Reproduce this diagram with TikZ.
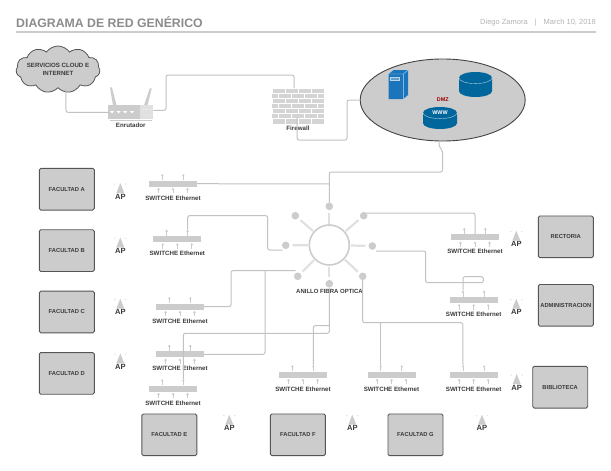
\documentclass[tikz,border=0pt]{standalone}
\usepackage{fontspec}
\setmainfont{Liberation Sans}
\usetikzlibrary{arrows.meta,positioning,calc,shapes.symbols,shapes.geometric}
\definecolor{frame}{HTML}{555555}
\definecolor{panel}{HTML}{CCCCCC}
\definecolor{wire}{HTML}{C2C2C2}
\definecolor{spoke}{HTML}{E0E0E0}
\definecolor{ink}{HTML}{3A3A3A}
\definecolor{diskblue}{HTML}{00669B}
\definecolor{srvblue}{HTML}{1B75BB}
\tikzset{
box/.style={draw=frame,fill=panel,line width=.9pt,rounded corners=1.5pt,minimum width=55pt,minimum height=41.7pt,inner sep=0pt,outer sep=0pt,align=center,text=ink,font=\bfseries\fontsize{5.8}{7}\selectfont},
lab/.style={inner sep=0pt,outer sep=0pt,text=ink,font=\bfseries\fontsize{6.2}{7}\selectfont},
aplab/.style={inner sep=0pt,outer sep=0pt,text=ink,font=\bfseries\fontsize{7.6}{8}\selectfont},
swbar/.style={fill=panel,minimum width=48pt,minimum height=6pt,inner sep=0pt,outer sep=0pt},
port/.style={draw=panel,line width=.8pt,-{Latex[length=2.2pt,width=3pt]}},
wired/.style={draw=wire,line width=1pt,rounded corners=2pt},
dot/.style={circle,fill=panel,minimum size=7.6pt,inner sep=0pt,outer sep=0pt}}
\newcommand{\switchnode}[3]{
\node[swbar] (#1) at (#2,#3) {};
\node[lab,below=9pt of #1] (#1lab) {SWITCHE Ethernet};
\coordinate (#1up1) at ($(#1)+(-10.7,-9.7)$);
\coordinate (#1up2) at ($(#1)+(10.3,-9.7)$);
\draw[port] ($(#1)+(-10.7,-3.5)$)--(#1up1);
\draw[port] ($(#1)+(10.3,-3.5)$)--(#1up2);
\foreach \dx in {-14.5,0,14.5} \draw[port] ($(#1)+(\dx,9.7)$)--($(#1)+(\dx,4)$);}
\newcommand{\apnode}[3]{
\node[aplab] (#1) at (#2,#3) {AP};
\fill[panel] ($(#1.north)+(-4,-1)$)--++(8,0)--++(-4,-10)--cycle;
\fill[spoke] ($(#1.north)+(-5.5,-10)$) circle (.8);
\fill[spoke] ($(#1.north)+(5.5,-10)$) circle (.8);}
\begin{document}
\begin{tikzpicture}[x=1pt,y=-1pt]
\useasboundingbox (0,0) rectangle (611,471);
\node[anchor=west,inner sep=0pt,text=gray!90,font=\bfseries\fontsize{12.3}{14}\selectfont] (title) at (16,22) {DIAGRAMA DE RED GENÉRICO};
\node[anchor=east,inner sep=0pt,text=gray!60,font=\fontsize{7.5}{9}\selectfont] (author) at (596,23) {Diego Zamora\hspace{7pt}|\hspace{7pt}March 10, 2018};
\coordinate (rulea) at (16,32);
\coordinate (ruleb) at (596,32);
\draw[panel,line width=1.4pt] (rulea)--(ruleb);
\node[cloud,cloud puffs=11,cloud puff arc=110,aspect=1.8,draw=frame,fill=panel,line width=.8pt,minimum width=84pt,minimum height=47pt,inner sep=0pt,outer sep=0pt] (cloud) at (58,69.5) {};
\node[lab,align=center,font=\bfseries\fontsize{6.1}{8}\selectfont] (cloudlab) at (58,69) {SERVICIOS CLOUD E\\INTERNET};
\node[fill=panel,minimum width=45pt,minimum height=14pt,inner sep=0pt,outer sep=0pt] (router) at (130.8,112.3) {};
\fill[panel] (110,87.3)--(112,87.3)--(116.5,105.3)--(113,105.3)--cycle;
\fill[panel] (149.8,88.3)--(151.8,88.3)--(147.5,105.3)--(144,105.3)--cycle;
\fill[spoke] (139.5,105.3) rectangle (153.3,119.3);
\foreach \i in {112,118.6,125.2,131.8} \fill[white] (\i-2,111.2)--(\i+2,111.2)--(\i,113.4)--cycle;
\foreach \j in {143,146.5,150} \fill[white] (\j,109.5) circle (.5) (\j,115) circle (.5);
\draw[panel,line width=.9pt] (110,120.9)--(152,120.9);
\node[lab,below=4pt of router] (routerlab) {Enrutador};
\node[fill=panel!85,minimum width=52pt,minimum height=36pt,inner sep=0pt,outer sep=0pt] (fw) at (298,106) {};
\foreach \r in {0,...,6} {
\draw[white,line width=.9pt] (272,88+5.14*\r)--(324,88+5.14*\r);
\pgfmathsetmacro{\off}{mod(\r,2)*6.5}
\foreach \k in {0,...,3} \draw[white,line width=.9pt] (272+\off+13*\k,88+5.14*\r)--++(0,5.14);}
\node[lab,below=1.8pt of fw] (fwlab) {Firewall};
\coordinate (fwout) at (297,117);
\node[ellipse,draw=frame!80!black,fill=panel,line width=.9pt,minimum width=165pt,minimum height=82pt,inner sep=0pt,outer sep=0pt] (dmz) at (442.7,100) {};
\fill[srvblue] (388.7,74)--(393.7,70)--(408,70)--(408,95)--(403.3,99)--(388.7,99)--cycle;
\draw[white!70!srvblue,line width=.4pt] (388.7,74)--(403.3,74)--(408,70) (403.3,74)--(403.3,99);
\draw[white!70!srvblue,fill=srvblue!70,line width=.4pt] (390,76.7) rectangle (399.3,80);
\foreach \cx/\cy/\rx/\hh in {475.5/77.8/16.5/13.4,440/112.8/17/10.4} {
\fill[diskblue] (\cx-\rx,\cy)--++(0,\hh) arc[start angle=180,end angle=0,x radius=\rx,y radius=5.8]--++(0,-\hh) arc[start angle=0,end angle=-180,x radius=\rx,y radius=5.8]--cycle;
\draw[white!70!diskblue,line width=.4pt] (\cx-\rx,\cy) arc[start angle=180,end angle=0,x radius=\rx,y radius=5.8];}
\node[inner sep=0pt,text=white,font=\bfseries\fontsize{5.4}{6}\selectfont] (www) at (440,113) {WWW};
\node[inner sep=0pt,text=red!60!black,font=\bfseries\fontsize{5.4}{6}\selectfont] (dmzlab) at (442.7,99.3) {DMZ};
\node[box] (fa) at (66.8,189.2) {FACULTAD A};
\node[box,below=19.7pt of fa] (fb) {FACULTAD B};
\node[box,below=19.7pt of fb] (fc) {FACULTAD C};
\node[box,below=19.7pt of fc] (fd) {FACULTAD D};
\node[box] (fe) at (169.3,434.8) {FACULTAD E};
\node[box,right=73.6pt of fe] (ff) {FACULTAD F};
\node[box,right=62.6pt of ff] (fg) {FACULTAD G};
\node[box] (rect) at (565.8,236.8) {RECTORIA};
\node[box,below=26.8pt of rect] (adm) {ADMINISTRACION};
\node[box] (bib) at (560.2,387.2) {BIBLIOTECA};
\apnode{apa}{120.3}{196.7}
\apnode{apb}{120.3}{251}
\apnode{apc}{120.3}{312.3}
\apnode{apd}{120.3}{367}
\apnode{ape}{229.3}{428.3}
\apnode{apf}{352.3}{428.3}
\apnode{apg}{482}{428.3}
\apnode{apr}{516.3}{244.3}
\apnode{apm}{516.3}{312.3}
\apnode{aph}{516.7}{387.7}
\switchnode{swa}{173}{183.7}
\switchnode{swb}{177.3}{239}
\switchnode{swc}{180}{306.7}
\switchnode{swd}{180}{354.3}
\switchnode{swe}{173}{388.7}
\switchnode{swf}{303}{374.7}
\switchnode{swg}{391.5}{374.7}
\switchnode{swh}{473.7}{374.7}
\switchnode{swr}{475}{237.3}
\switchnode{swm}{473.7}{300}
\node[circle,draw=panel,line width=1.6pt,minimum size=40pt,inner sep=0pt,outer sep=0pt] (ring) at (329.3,245) {};
\foreach \n/\x/\y in {n/329.3/206.3,nw/295.3/215.7,w/285.7/245.3,sw/297.7/276.3,s/329.3/283.7,se/362.7/276.3,e/372.3/246,ne/363.7/215.7} {
\node[dot] (dot\n) at (\x,\y) {};
\draw[spoke,line width=2.2pt,shorten <=1.5pt,shorten >=3pt] (ring)--(dot\n);}
\node[lab,font=\bfseries\fontsize{6}{7}\selectfont] (ringlab) at (329.5,291.8) {ANILLO FIBRA OPTICA};
\coordinate (endw) at (282.7,250);
\coordinate (endsw) at (295.7,270.7);
\coordinate (ende) at (376,251);
\draw[wired] (cloud.south)++(8,0)|-(router.west);
\draw[wired] (router.east)++(0,-2)-|(166,75)-|(294,88);
\draw[wired] (fwout)|-(347,140)|-(dmz.west);
\draw[wired] (dmz.south)++(-3.7,0)--++(0,6)--(442.5,150)|-(329.3,172)--(dotn);
\draw[wired] (swa.east)--(329.3,184);
\draw[wired] (swbup2)|-(267.7,215.7)|-(endw);
\draw[wired] (endsw)-|(231,306.7)--(swc.east);
\draw[wired] (265,270.7)|-(swd.east);
\draw[wired] (dots)|-(183.3,333.3)--(sweup2);
\draw[wired] (329.3,325.7)-|(swfup2);
\draw[wired] (dotse)|-(462.8,322.7)--(swhup1);
\draw[wired] (380.8,322.7)--(swgup1);
\draw[wired] (dotne.north east)-|(swr.north);
\draw[wired] (ende)-|(425.7,282.7)-|(483.3,276.7)-|(swmup1);
\end{tikzpicture}
\end{document}
